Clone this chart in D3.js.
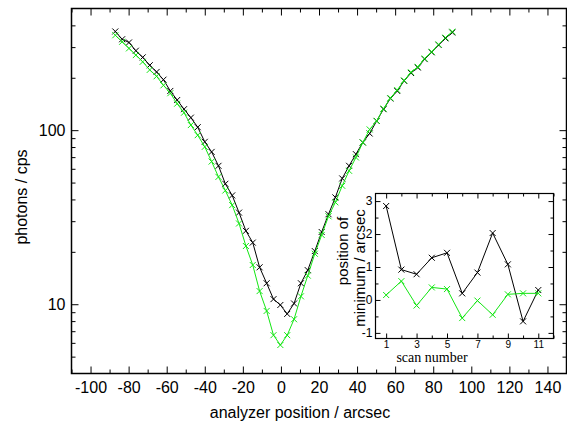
<!DOCTYPE html>
<html>
<head>
<meta charset="utf-8">
<script src="https://cdn.jsdelivr.net/npm/d3@7"></script>
<style>
	body { margin: 0; background: #fff; }
	svg { display: block; }
	.tick text { font-family: 'Liberation Sans', Arial, sans-serif; fill: #000; }
	.domain { display: none; }
</style>
</head>
<body>
<svg id="chart" width="567" height="429"></svg>
<script>
// main scan: analyzer position (arcsec) and count rate (cps)
const positions = [-87.0, -83.4, -79.8, -76.2, -72.6, -68.9, -65.3, -61.7, -58.1, -54.5,
	-50.9, -47.3, -43.7, -40.0, -36.4, -32.8, -29.2, -25.6, -22.0, -18.4,
	-14.8, -11.2, -7.5, -3.9, -0.3, 3.3, 6.9, 10.5, 14.1, 17.8,
	21.4, 25.0, 28.6, 32.2, 35.8, 39.4, 43.0, 46.6, 50.3, 53.9,
	57.5, 61.1, 64.7, 68.3, 71.9, 75.5, 79.2, 82.8, 86.4, 90.0];
const countsBlack = [369, 333, 319, 286, 262, 236, 216, 195, 168, 149,
	132, 118, 104, 85.7, 75, 62.4, 49.2, 42.2, 33.6, 26.4,
	22.6, 16.3, 13.2, 10.7, 9.9, 8.8, 10.1, 13.2, 15.7, 20.2,
	26, 32.9, 41.1, 52.8, 62.4, 72.8, 85, 95.7, 113, 132,
	152, 168, 192, 213, 229, 256, 280, 309, 337, 364];
const countsGreen = [351, 322, 295, 270, 247, 222, 204, 181, 163, 142,
	126, 107, 93.6, 80.2, 66, 53.9, 45, 37.1, 29.1, 21.6,
	16.8, 11.9, 9.15, 6.64, 5.83, 6.64, 8.2, 11.1, 14.6, 19.5,
	25, 32, 38.5, 47.9, 58.4, 69.7, 85, 101, 113, 133,
	153, 170, 193, 215, 231, 258, 282, 311, 340, 368];

// inset: fitted minimum per scan
const scans = [1, 2, 3, 4, 5, 6, 7, 8, 9, 10, 11];
const minBlack = [2.85, 0.92, 0.78, 1.28, 1.43, 0.2, 0.83, 2.03, 1.08, -0.65, 0.3];
const minGreen = [0.15, 0.57, -0.17, 0.38, 0.33, -0.55, -0.02, -0.45, 0.17, 0.2, 0.2];

const xMajor = [-100, -80, -60, -40, -20, 0, 20, 40, 60, 80, 100, 120, 140];
const xMinor = [-110, -90, -70, -50, -30, -10, 10, 30, 50, 70, 90, 110, 130, 150];
const yMajor = [10, 100];
const yMinor = [5, 6, 7, 8, 9, 20, 30, 40, 50, 60, 70, 80, 90, 200, 300, 400];
const insetXMajor = [1, 3, 5, 7, 9, 11];
const insetXMinor = [2, 4, 6, 8, 10, 12];
const insetYMajor = [-1, 0, 1, 2, 3];
const insetYMinor = [-0.5, 0.5, 1.5, 2.5];

const BLACK = '#000';
const GREEN = '#14e614';
const SANS = "'Liberation Sans', Arial, sans-serif";
const SERIF = "'Liberation Serif', 'Times New Roman', serif";

const svg = d3.select('#chart');

const x = d3.scaleLinear().domain([-110, 150]).range([71.5, 566.5]);
const y = d3.scaleLog().domain([4, 500]).range([373.5, 8.5]);

function drawTicks(g, axisFn, scale, values, size, labels, fontSize, pad) {
	g.call(axisFn(scale)
		.tickValues(values)
		.tickSizeInner(-size)
		.tickSizeOuter(0)
		.tickPadding(pad || 6)
		.tickFormat(labels ? d => String(d) : ''))
		.call(s => s.selectAll('.tick line').attr('stroke', BLACK).attr('stroke-width', 1))
		.call(s => s.selectAll('.tick text').style('font-size', fontSize + 'px'));
}

function series(g, xs, ys, xScale, yScale, color, r) {
	const pts = xs.map((d, i) => [xScale(d), yScale(ys[i])]);
	g.append('path')
		.attr('d', d3.line()(pts))
		.attr('fill', 'none')
		.attr('stroke', color)
		.attr('stroke-width', 1);
	g.selectAll(null)
		.data(pts)
		.enter()
		.append('path')
		.attr('d', d => `M${d[0] - r},${d[1] - r}L${d[0] + r},${d[1] + r}M${d[0] - r},${d[1] + r}L${d[0] + r},${d[1] - r}`)
		.attr('stroke', color)
		.attr('stroke-width', 1);
}

// main frame + ticks
const [x0, x1] = x.range();
const [y1, y0] = y.range();

drawTicks(svg.append('g').attr('transform', `translate(0,${y1})`), d3.axisBottom, x, xMajor, 7, true, 16, 8);
drawTicks(svg.append('g').attr('transform', `translate(0,${y1})`), d3.axisBottom, x, xMinor, 4, false, 16);
drawTicks(svg.append('g').attr('transform', `translate(0,${y0})`), d3.axisTop, x, xMajor, 7, false, 16);
drawTicks(svg.append('g').attr('transform', `translate(0,${y0})`), d3.axisTop, x, xMinor, 4, false, 16);
drawTicks(svg.append('g').attr('transform', `translate(${x0},0)`), d3.axisLeft, y, yMajor, 7, true, 16, 6);
drawTicks(svg.append('g').attr('transform', `translate(${x0},0)`), d3.axisLeft, y, yMinor, 4, false, 16);
drawTicks(svg.append('g').attr('transform', `translate(${x1},0)`), d3.axisRight, y, yMajor, 7, false, 16);
drawTicks(svg.append('g').attr('transform', `translate(${x1},0)`), d3.axisRight, y, yMinor, 4, false, 16);

svg.append('rect')
	.attr('x', x0).attr('y', y0)
	.attr('width', x1 - x0).attr('height', y1 - y0)
	.attr('fill', 'none').attr('stroke', BLACK).attr('stroke-width', 1.5);

const main = svg.append('g');
series(main, positions, countsBlack, x, y, BLACK, 3);
series(main, positions, countsGreen, x, y, GREEN, 3);

svg.append('text')
	.attr('x', 300)
	.attr('y', 418)
	.attr('text-anchor', 'middle')
	.style('font-family', SANS)
	.style('font-size', '16px')
	.text('analyzer position / arcsec');

svg.append('text')
	.attr('transform', `translate(27,${(y0 + y1) / 2 + 6}) rotate(-90)`)
	.attr('text-anchor', 'middle')
	.style('font-family', SANS)
	.style('font-size', '16px')
	.text('photons / cps');

// inset
const ix = d3.scaleLinear().domain([0.3, 12]).range([375.5, 553.5]);
const iy = d3.scaleLinear().domain([-1.17, 3.23]).range([338.5, 193.5]);
const [ix0, ix1] = ix.range();
const [iy1, iy0] = iy.range();

const inset = svg.append('g');
inset.append('rect')
	.attr('x', ix0).attr('y', iy0)
	.attr('width', ix1 - ix0).attr('height', iy1 - iy0)
	.attr('fill', '#fff');

drawTicks(inset.append('g').attr('transform', `translate(0,${iy1})`), d3.axisBottom, ix, insetXMajor, 5, true, 10, 2);
drawTicks(inset.append('g').attr('transform', `translate(0,${iy1})`), d3.axisBottom, ix, insetXMinor, 3, false, 10);
drawTicks(inset.append('g').attr('transform', `translate(0,${iy0})`), d3.axisTop, ix, insetXMajor, 5, false, 10);
drawTicks(inset.append('g').attr('transform', `translate(0,${iy0})`), d3.axisTop, ix, insetXMinor, 3, false, 10);
drawTicks(inset.append('g').attr('transform', `translate(${ix0},0)`), d3.axisLeft, iy, insetYMajor, 5, true, 12, 3);
drawTicks(inset.append('g').attr('transform', `translate(${ix0},0)`), d3.axisLeft, iy, insetYMinor, 3, false, 12);
drawTicks(inset.append('g').attr('transform', `translate(${ix1},0)`), d3.axisRight, iy, insetYMajor, 5, false, 12);
drawTicks(inset.append('g').attr('transform', `translate(${ix1},0)`), d3.axisRight, iy, insetYMinor, 3, false, 12);

inset.append('rect')
	.attr('x', ix0).attr('y', iy0)
	.attr('width', ix1 - ix0).attr('height', iy1 - iy0)
	.attr('fill', 'none').attr('stroke', BLACK).attr('stroke-width', 1.2);

series(inset, scans, minBlack, ix, iy, BLACK, 3);
series(inset, scans, minGreen, ix, iy, GREEN, 3);

inset.append('text')
	.attr('x', 432)
	.attr('y', 362)
	.attr('text-anchor', 'middle')
	.style('font-family', SERIF)
	.style('font-size', '14px')
	.text('scan number');

inset.append('text')
	.attr('transform', `translate(348,251) rotate(-90)`)
	.attr('text-anchor', 'middle')
	.style('font-family', SANS)
	.style('font-size', '15px')
	.text('position of');

inset.append('text')
	.attr('transform', `translate(365,268) rotate(-90)`)
	.attr('text-anchor', 'middle')
	.style('font-family', SANS)
	.style('font-size', '15px')
	.text('minimum / arcsec');
</script>
</body>
</html>
